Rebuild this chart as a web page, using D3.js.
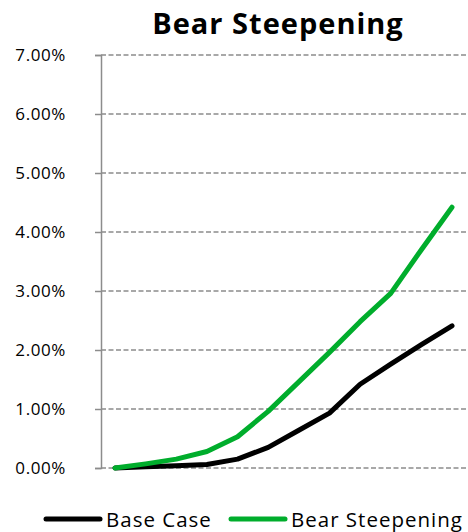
<!DOCTYPE html>
<html>
<head>
<meta charset="utf-8">
<script src="https://cdn.jsdelivr.net/npm/d3@7"></script>
<style>
  html, body { margin: 0; padding: 0; background: #fff; }
  svg { display: block; }
  text { font-family: "Open Sans", Lato, sans-serif; fill: #000; }
</style>
</head>
<body>
<div id="chart"></div>
<script>
// Periods along the horizontal axis (unlabelled)
const periods = [0, 1, 2, 3, 4, 5, 6, 7, 8, 9, 10, 11];
// Cumulative change, in percent
const baseCase = [0, 0.02, 0.04, 0.06, 0.15, 0.35, 0.64, 0.93, 1.42, 1.76, 2.09, 2.41];
const bearSteepening = [0, 0.07, 0.15, 0.28, 0.53, 0.96, 1.46, 1.96, 2.48, 2.96, 3.70, 4.42];
const yTicks = [0, 1, 2, 3, 4, 5, 6, 7];
const seriesNames = ["Base Case", "Bear Steepening"];
const seriesColors = ["#000000", "#00ad2c"];

const width = 468, height = 532;
const plot = { left: 101, right: 468, top: 55, bottom: 468 };

const svg = d3.select("#chart").append("svg")
  .attr("width", width).attr("height", height);

const x = d3.scalePoint().domain(periods).range([115, 452]);
const y = d3.scaleLinear().domain([0, 7]).range([plot.bottom, plot.top]);

// Title
svg.append("text")
  .attr("x", 278).attr("y", 34)
  .attr("text-anchor", "middle")
  .style("font-size", "29px").style("font-weight", "bold")
  .style("letter-spacing", "1px")
  .text("Bear Steepening");

// Dashed horizontal gridlines
svg.append("g")
  .selectAll("line").data(yTicks).join("line")
  .attr("x1", plot.left).attr("x2", plot.right)
  .attr("y1", d => y(d)).attr("y2", d => y(d))
  .attr("stroke", "#8c8c8c").attr("stroke-width", 1.5)
  .attr("stroke-dasharray", "5,2.5");

// Left axis
const yAxis = d3.axisLeft(y).tickValues(yTicks)
  .tickFormat(d => d.toFixed(2) + "%").tickSize(6).tickPadding(29);
const ag = svg.append("g").attr("transform", `translate(${plot.left},0)`).call(yAxis);
ag.select(".domain").attr("stroke", "#8c8c8c").attr("stroke-width", 1.5);
ag.selectAll(".tick line").attr("stroke", "#8c8c8c").attr("stroke-width", 1.5);
ag.selectAll(".tick text")
  .style("font-family", "'Open Sans', Lato, sans-serif")
  .style("font-size", "17px").style("letter-spacing", "0.6px")
  .attr("fill", "#000");

// Series lines
const line = d3.line().x((d, i) => x(periods[i])).y(d => y(d));
[baseCase, bearSteepening].forEach((vals, k) => {
  svg.append("path")
    .datum(vals)
    .attr("d", line)
    .attr("fill", "none")
    .attr("stroke", seriesColors[k])
    .attr("stroke-width", 5)
    .attr("stroke-linejoin", "round")
    .attr("stroke-linecap", "round");
});

// Legend
const legendPos = [46, 231];
seriesNames.forEach((name, k) => {
  const g = svg.append("g").attr("transform", `translate(${legendPos[k]},519)`);
  g.append("line")
    .attr("x1", 0).attr("x2", 54).attr("y1", 0).attr("y2", 0)
    .attr("stroke", seriesColors[k]).attr("stroke-width", 5)
    .attr("stroke-linecap", "round");
  g.append("text")
    .attr("x", 60).attr("y", 8)
    .style("font-size", "20.5px").style("letter-spacing", "1px")
    .text(name);
});
</script>
</body>
</html>
